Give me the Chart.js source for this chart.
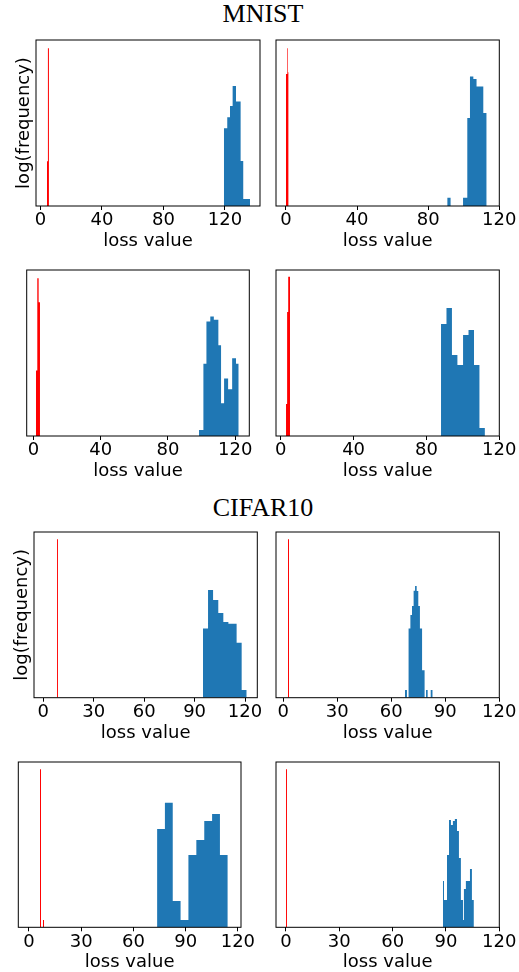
<!DOCTYPE html>
<html>
<head>
<meta charset="utf-8">
<script src="https://cdn.jsdelivr.net/npm/chart.js@4.4.1/dist/chart.umd.min.js"></script>
<style>
  body { margin: 0; background: #fff; }
  #page { position: relative; width: 519px; height: 972px; overflow: hidden; }
  #page canvas { position: absolute; left: 0; top: 0; }
  .group-title {
    position: absolute; left: 0; width: 526px; text-align: center;
    font-family: 'Liberation Serif', 'Times New Roman', serif;
    font-size: 26px; line-height: 26px; color: #000;
  }
</style>
</head>
<body>
<div id="page">
  <div class="group-title" style="top:1px">MNIST</div>
  <div class="group-title" style="top:495px">CIFAR10</div>
</div>
<script>
// tick labels
const mnistTicks = [0, 40, 80, 120];
const cifarTicks = [0, 30, 60, 90, 120];

// bin edges (loss value) and bar heights (log frequency, % of axis height)
// MNIST, top left
const m1RedEdges = [4.2, 4.85, 5.5];
const m1RedFreq = [27, 95];
const m1BlueEdges = [119.3, 121.5, 123.3, 125.0, 127.2, 130.2, 131.9, 136.3];
const m1BlueFreq = [46.8, 53.4, 60.2, 72.3, 62.9, 27.1, 4.2];

// MNIST, top right
const m2RedEdges = [0.0, 0.75, 1.1, 1.5];
const m2RedFreq = [79.5, 95, 80.5];
const m2BlueEdges = [90.7, 92.6, 99.6, 102.0, 103.5, 105.4, 107.2, 111.0, 112.9];
const m2BlueFreq = [5, 0, 5, 53, 78, 76.5, 72, 56];

// MNIST, bottom left
const m3RedEdges = [1.5, 2.3, 3.1, 3.9];
const m3RedFreq = [39.5, 95, 80.5];
const m3BlueEdges = [98.5, 101.1, 102.9, 105.2, 107.3, 110.0, 111.6, 113.4, 115.8, 118.2, 120.5, 122.1];
const m3BlueFreq = [3.6, 43.5, 69, 72, 70, 54.6, 19.8, 34.7, 28.2, 46.8, 43.5];

// MNIST, bottom right
const m4RedEdges = [2.9, 3.5, 4.1, 5.1];
const m4RedFreq = [19.3, 74.7, 96];
const m4BlueEdges = [88.0, 91.0, 94.0, 97.0, 100.1, 103.1, 106.1, 109.1, 112.1];
const m4BlueFreq = [67.5, 77.1, 48.8, 42.8, 60.8, 63.9, 42.8, 4.8];

// CIFAR10, top left
const c1RedEdges = [8.2, 8.8];
const c1RedFreq = [95.6];
const c1BlueEdges = [95.0, 98.0, 101.0, 104.1, 107.1, 110.1, 112.6, 115.0, 118.0, 121.0];
const c1BlueFreq = [41.8, 65, 59, 51.1, 45.7, 44.7, 44.7, 33.2, 4.6];

// CIFAR10, top right
const c2RedEdges = [2.62, 3.17];
const c2RedFreq = [95.6];
const c2BlueEdges = [67.6, 68.7, 69.6, 70.6, 71.5, 72.4, 73.2, 74.1, 75.0, 75.9, 77.1, 78.5, 79.3, 80.2, 81.9, 83.0];
const c2BlueFreq = [4.6, 0, 41.8, 49.9, 55.3, 64.6, 67.4, 64.4, 55.3, 41.8, 16.5, 0, 4.6, 0, 4.6];

// CIFAR10, bottom left
const c3RedEdges = [6.37, 6.93, 8.09, 8.66];
const c3RedFreq = [95.6, 0, 4.4];
const c3BlueEdges = [73.6, 78.1, 82.6, 87.1, 91.6, 96.15, 100.7, 105.2, 109.7, 114.2];
const c3BlueFreq = [59.5, 75.4, 15.9, 4.4, 43.8, 52.8, 64.3, 68.5, 43.8];

// CIFAR10, bottom right
const c4RedEdges = [0.03, 0.58];
const c4RedFreq = [95.6];
const c4BlueEdges = [88.3, 88.9, 90.6, 91.7, 92.8, 93.9, 95.0, 96.2, 97.3, 98.4, 99.6, 100.1, 101.2, 103.5, 104.6, 105.7];
const c4BlueFreq = [28, 16.5, 43.8, 64.9, 61.9, 64.3, 65.5, 58.3, 41.9, 16.5, 4.4, 23.2, 28, 35.3, 16.5];

// page layout: plot box [left, top, right, bottom] and x range of each panel
const panels = [
  { red: [m1RedEdges, m1RedFreq], blue: [m1BlueEdges, m1BlueFreq], ticks: mnistTicks, range: [-2.9, 142.8], box: [36, 40, 260, 206], ylabel: true },
  { red: [m2RedEdges, m2RedFreq], blue: [m2BlueEdges, m2BlueFreq], ticks: mnistTicks, range: [-5.6, 120], box: [276, 40, 499.3, 206] },
  { red: [m3RedEdges, m3RedFreq], blue: [m3BlueEdges, m3BlueFreq], ticks: mnistTicks, range: [-4.0, 128.4], box: [26.7, 270, 249.3, 436] },
  { red: [m4RedEdges, m4RedFreq], blue: [m4BlueEdges, m4BlueFreq], ticks: mnistTicks, range: [-2.6, 120], box: [276, 270, 499.3, 436] },
  { red: [c1RedEdges, c1RedFreq], blue: [c1BlueEdges, c1BlueFreq], ticks: cifarTicks, range: [-5.5, 127.3], box: [34, 532, 257.3, 697.7], ylabel: true },
  { red: [c2RedEdges, c2RedFreq], blue: [c2BlueEdges, c2BlueFreq], ticks: cifarTicks, range: [-4.05, 120], box: [276, 532, 499.3, 697.7] },
  { red: [c3RedEdges, c3RedFreq], blue: [c3BlueEdges, c3BlueFreq], ticks: cifarTicks, range: [-6.1, 121.8], box: [18.3, 762, 241, 927.3] },
  { red: [c4RedEdges, c4RedFreq], blue: [c4BlueEdges, c4BlueFreq], ticks: cifarTicks, range: [-5.6, 120], box: [276, 762, 499.3, 927.3] }
];

function histPoints(edges, freq) {
  return edges.map((e, i) => ({ x: e, y: i < freq.length ? freq[i] : 0 }));
}

// black frame round the plot area
const framePlugin = {
  id: 'frame',
  afterDraw(chart) {
    const { ctx, chartArea: a } = chart;
    ctx.save();
    ctx.strokeStyle = '#000';
    ctx.lineWidth = 1;
    ctx.strokeRect(a.left, a.top, a.right - a.left, a.bottom - a.top);
    ctx.restore();
  }
};

Chart.defaults.font.family = "'DejaVu Sans', sans-serif";
Chart.defaults.color = '#000';

const W = 519, H = 972, AXIS_H = 46;
const page = document.getElementById('page');

panels.forEach(p => {
  const [l, t, r, b] = p.box;
  const canvas = document.createElement('canvas');
  canvas.width = W;
  canvas.height = H;
  page.appendChild(canvas);

  new Chart(canvas, {
    type: 'line',
    data: {
      datasets: [
        { data: histPoints(...p.red), backgroundColor: 'red' },
        { data: histPoints(...p.blue), backgroundColor: '#1f77b4' }
      ]
    },
    options: {
      responsive: false,
      animation: false,
      events: [],
      layout: { padding: { left: p.ylabel ? 0 : l, top: t, right: W - r, bottom: H - b - AXIS_H } },
      plugins: { legend: { display: false }, tooltip: { enabled: false } },
      elements: {
        point: { radius: 0 },
        line: { borderWidth: 0, borderColor: 'rgba(0,0,0,0)', stepped: true, fill: 'origin' }
      },
      scales: {
        x: {
          type: 'linear',
          min: p.range[0],
          max: p.range[1],
          afterBuildTicks: s => { s.ticks = p.ticks.map(v => ({ value: v })); },
          afterFit: s => { s.height = AXIS_H; },
          grid: { drawOnChartArea: false, drawTicks: true, tickLength: 4, color: '#000' },
          border: { display: false },
          ticks: { padding: 0, font: { size: 18 }, maxRotation: 0, autoSkip: false },
          title: { display: true, text: 'loss value', font: { size: 18 }, padding: 0 }
        },
        y: {
          min: 0,
          max: 100,
          display: !!p.ylabel,
          afterFit: s => { if (p.ylabel) s.width = l; },
          ticks: { display: false },
          grid: { display: false },
          border: { display: false },
          title: { display: true, text: 'log(frequency)', font: { size: 18 }, padding: { top: l - 22.3, bottom: 0 } }
        }
      }
    },
    plugins: [framePlugin]
  });
});
</script>
</body>
</html>
